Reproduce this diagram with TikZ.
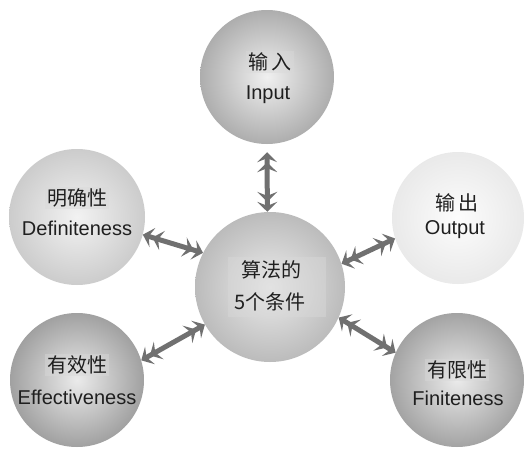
\documentclass[tikz,border=0pt]{standalone}
\usepackage{fontspec}
\setmainfont{Liberation Sans}
\newfontfamily\cjk{Noto Sans CJK SC}
\usetikzlibrary{arrows.meta}
\colorlet{sphin}{white}
\colorlet{sphout}{gray}
\pgfdeclareradialshading[sphin,sphout]{sph}{\pgfpoint{0bp}{0bp}}{color(0bp)=(sphin);color(50bp)=(sphout);color(72bp)=(sphout)}
\tikzset{
  sphere/.style n args={3}{circle, inner sep=0pt, minimum size=#1,
    /utils/exec={\colorlet{sphin}{#2}\colorlet{sphout}{#3}}, shade, shading=sph},
  zh/.style={font=\cjk\fontsize{20}{20}\selectfont, text=black!88, inner sep=2pt},
  en/.style={font=\fontsize{20}{20}\selectfont, text=black!88, inner sep=0pt},
  hl/.style={fill=black!15, fill opacity=0.45, text opacity=1},
  dtip/.tip={Stealth[length=10pt,width=20pt,inset=4pt]Stealth[length=10pt,width=20pt,inset=4pt]},
  link/.style={draw=black!56, line width=5pt, dtip-dtip}
}
\begin{document}
\begin{tikzpicture}[x=1pt,y=-1pt]
\fill[white] (0,0) rectangle (525,450);
\useasboundingbox (0,0) rectangle (525,450);

% spheres
\node[sphere={134pt}{black!6}{black!58}] (inp) at (267,77) {};
\node[sphere={150pt}{black!8}{black!45}] (ctr) at (270,287) {};
\node[sphere={136pt}{black!5}{black!35}] (def) at (77,217) {};
\node[sphere={132pt}{black!1}{black!16}] (out) at (458,218) {};
\node[sphere={134pt}{black!8}{black!66}] (eff) at (77,380) {};
\node[sphere={134pt}{black!8}{black!64}] (fin) at (457,380) {};

% texts
\node[zh,hl] (inpzh) at (270,62) {输\,入};
\node[en] (inpen) at (268,95) {Input};

\node[zh,hl] (defzh) at (77,198) {明确性};
\node[en] (defen) at (77,228) {Definiteness};

\node[zh] (outzh) at (457,203) {输\,出};
\node[en] (outen) at (455,230) {Output};

\node[hl, minimum width=98pt, minimum height=60pt] (ctrhl) at (277,287) {};
\node[zh] (ctrzh) at (271,270) {算法的};
\node[zh] (ctrnum) at (270,302) {5个条件};

\node[zh,hl] (effzh) at (77,365) {有效性};
\node[en] (effen) at (77,397) {Effectiveness};

\node[zh,hl] (finzh) at (457,370) {有限性};
\node[en] (finen) at (458,398) {Finiteness};

% connectors
\draw[link, shorten <=8pt] (inp.270) -- (ctr.92);
\draw[link] (def.-15) -- (ctr.153);
\draw[link] (out.198) -- (ctr.18);
\draw[link] (eff.17) -- (ctr.210);
\draw[link] (fin.156) -- (ctr.-24);
\end{tikzpicture}
\end{document}
